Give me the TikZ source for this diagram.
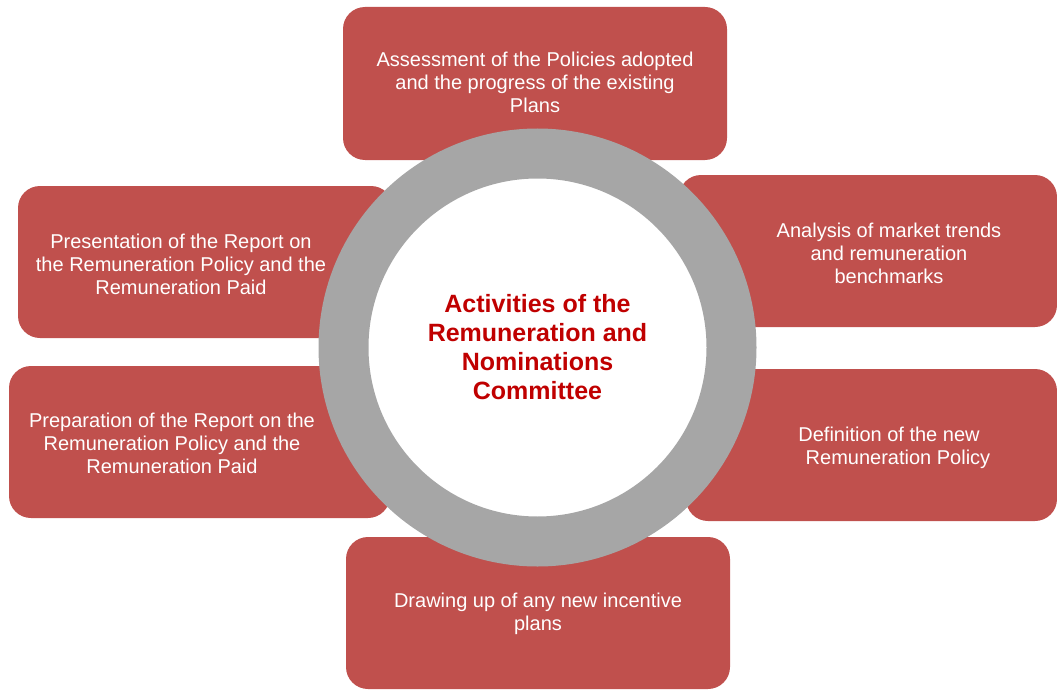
\documentclass[tikz,border=0pt]{standalone}
\usepackage{fontspec}
\setmainfont{Liberation Sans}
\definecolor{boxred}{HTML}{C0504D}
\definecolor{ringgrey}{HTML}{A6A6A6}
\definecolor{titlered}{HTML}{C00000}
\begin{document}
\begin{tikzpicture}[x=1pt,y=-1pt,
  box/.style={fill=boxred, draw=none, rounded corners=22pt, inner sep=0pt, minimum height=152pt},
  lbl/.style={text=white, align=center, font=\fontsize{20}{23}\selectfont, inner sep=0pt},
  hubstyle/.style={circle, draw=ringgrey, line width=50pt, fill=white, minimum size=388pt, inner sep=0pt,
    text=titlered, align=center, font=\bfseries\fontsize{25}{29}\selectfont}
  ]
\useasboundingbox (0,0) rectangle (1057,690);
% boxes
\node[box, minimum width=384pt, minimum height=153pt] (b1) at (535,83.5) {};
\node[box, minimum width=378pt] (b2) at (868,251) {};
\node[box, minimum width=371pt] (b3) at (871.5,445) {};
\node[box, minimum width=384pt] (b4) at (538,613) {};
\node[box, minimum width=381pt] (b5) at (199.5,442) {};
\node[box, minimum width=375pt] (b6) at (205.5,262) {};
% labels
\node[lbl] (t1) at (535,82) {Assessment of the Policies adopted\\and the progress of the existing\\Plans};
\node[lbl] (t2) at (889,253) {Analysis of market trends\\and remuneration\\benchmarks};
\node[lbl] (t3) at (889,448) {Definition of the new\\\hspace*{18pt}Remuneration Policy};
\node[lbl] (t4) at (538,613.5) {Drawing up of any new incentive\\plans};
\node[lbl] (t5) at (172,443) {Preparation of the Report on the\\Remuneration Policy and the\\Remuneration Paid};
\node[lbl] (t6) at (181,264) {Presentation of the Report on\\the Remuneration Policy and the\\Remuneration Paid};
% hub
\node[hubstyle] (hub) at (537.5,347.5) {Activities of the\\Remuneration and\\Nominations\\Committee};
\end{tikzpicture}
\end{document}
